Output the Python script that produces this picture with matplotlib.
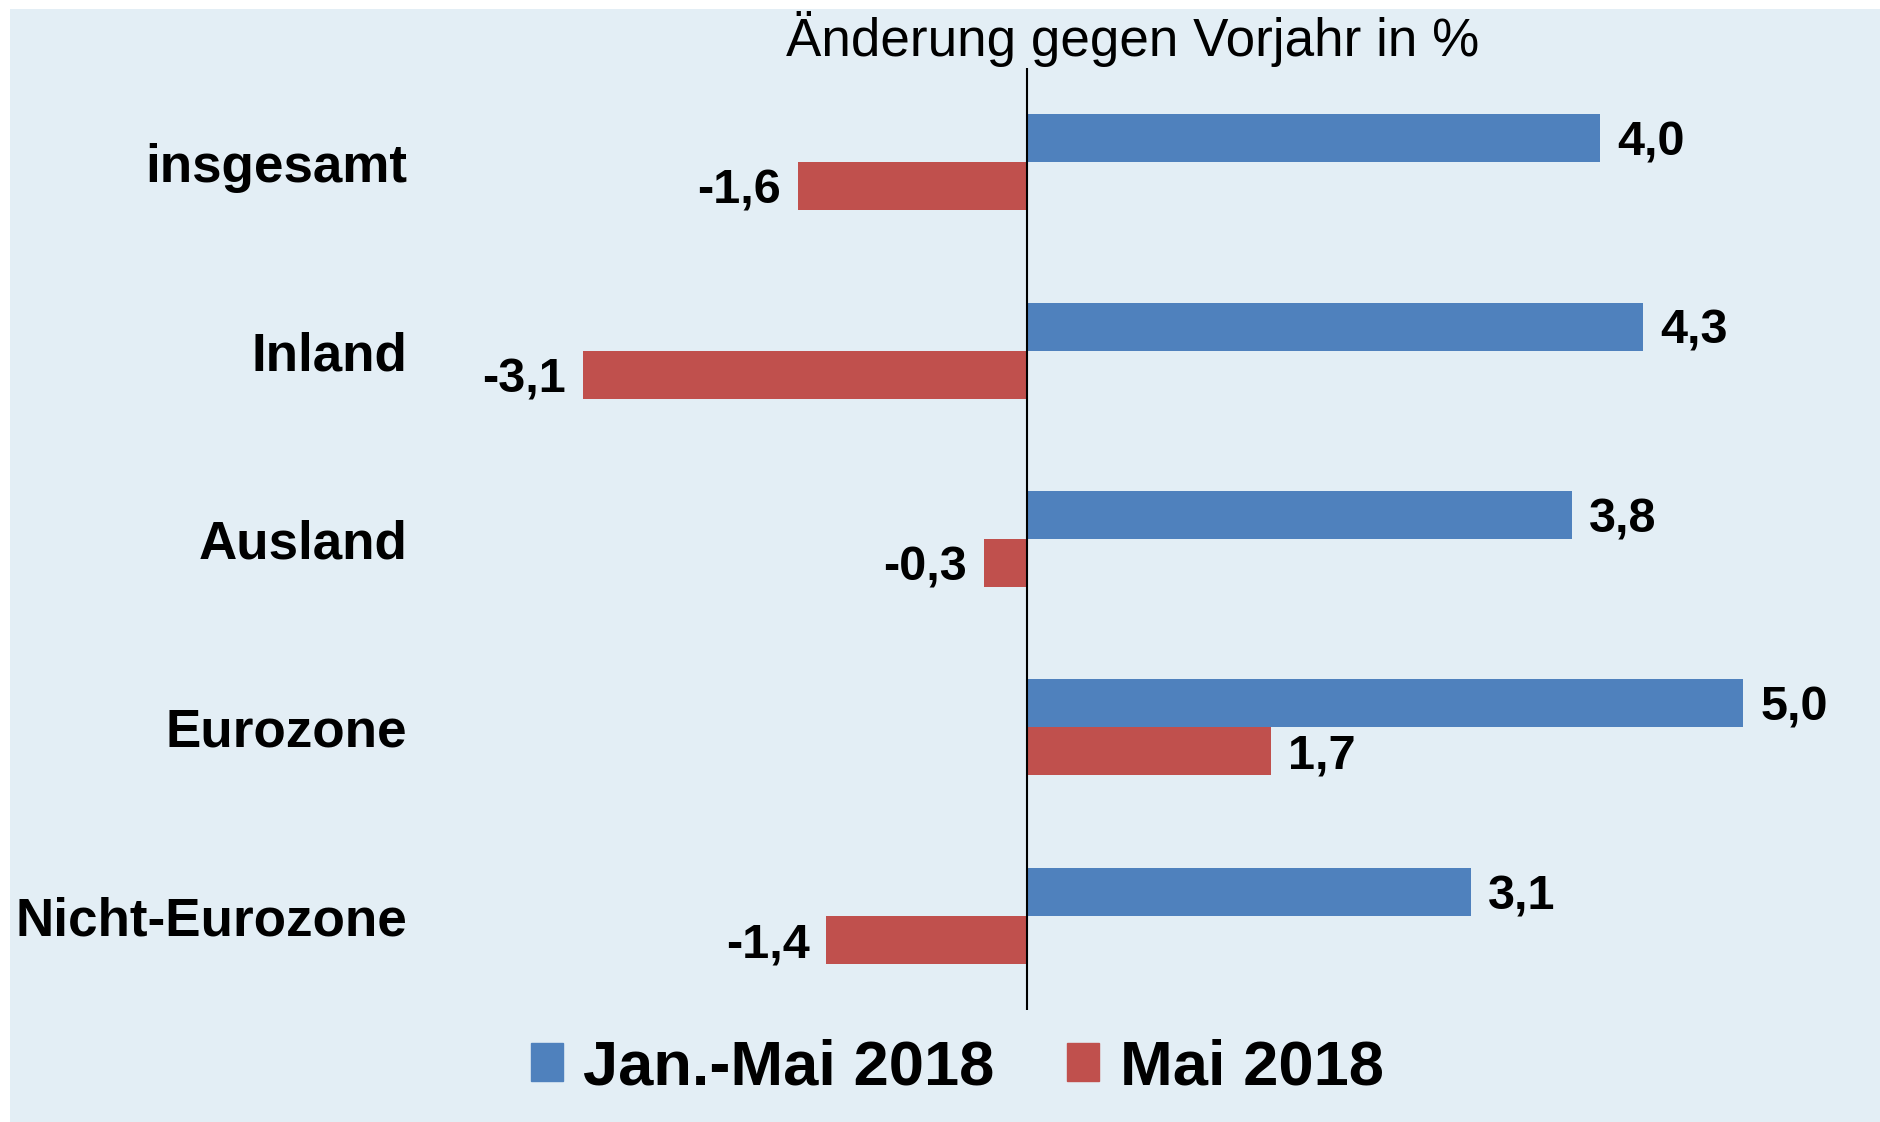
import numpy as np
import matplotlib.pyplot as plt
from matplotlib.patches import Patch, Rectangle

plt.rcParams['font.family'] = ['Liberation Sans', 'DejaVu Sans']

categories = ["insgesamt", "Inland", "Ausland", "Eurozone", "Nicht-Eurozone"]
jan_mai = [4.0, 4.3, 3.8, 5.0, 3.1]
mai = [-1.6, -3.1, -0.3, 1.7, -1.4]
series_names = ["Jan.-Mai 2018", "Mai 2018"]

BLUE = '#4F81BD'
RED = '#C0504D'
BG = '#E3EEF5'

W, H = 1881, 1122
fig = plt.figure(figsize=(W / 100, H / 100), dpi=100, facecolor='white')

# light blue panel behind everything
fig.add_artist(Rectangle((10 / W, 0), 1 - 10 / W, 1 - 9 / H,
                         transform=fig.transFigure, facecolor=BG,
                         edgecolor='none', zorder=-10))

# axes placed in pixel terms: x from 420 to 1860, y from 68 to 1010
ax = fig.add_axes([420 / W, 1 - 1010 / H, 1440 / W, 942 / H])
ax.set_facecolor('none')
ax.set_zorder(1)

y = np.arange(len(categories))
h = 0.255
ax.barh(y - h / 2, jan_mai, height=h, color=BLUE, label=series_names[0])
ax.barh(y + h / 2, mai, height=h, color=RED, label=series_names[1])

scale = 143.3  # px per unit
ax.set_xlim((420 - 1027) / scale, (1860 - 1027) / scale)
ax.set_ylim(len(categories) - 0.5, -0.5)
ax.axvline(0, color='black', lw=1.5)

for s in ax.spines.values():
    s.set_visible(False)
ax.set_xticks([])
ax.set_yticks(y)
ax.set_yticklabels(categories, fontsize=38.2, fontweight='bold')
ax.tick_params(axis='y', length=0, pad=9)

# values: digits vertically centred on the bar
off = 17 / scale
lab_size = 35
half_cap = lab_size / 72 * 100 * 0.716 / 2 / 188.4
for vals, dy in ((jan_mai, -h / 2), (mai, h / 2)):
    for i, v in enumerate(vals):
        txt = f"{v:.1f}".replace('.', ',')
        if v >= 0:
            ax.text(v + off, i + dy + half_cap, txt, ha='left', va='baseline',
                    fontsize=lab_size, fontweight='bold')
        else:
            ax.text(v - off, i + dy + half_cap, txt, ha='right', va='baseline',
                    fontsize=lab_size, fontweight='bold')

fig.text(1133 / W, 1 - 56 / H, "Änderung gegen Vorjahr in %",
         ha='center', va='baseline', fontsize=38.2)

handles = [Patch(color=BLUE), Patch(color=RED)]
fig.legend(handles, series_names, loc='center', bbox_to_anchor=(0.509, 0.048),
           ncol=2, frameon=False, prop={'size': 45.5, 'weight': 'bold'},
           handlelength=0.5, handleheight=0.55, handletextpad=0.33,
           columnspacing=1.15)

fig.savefig('out.png', dpi=100, facecolor='white')
